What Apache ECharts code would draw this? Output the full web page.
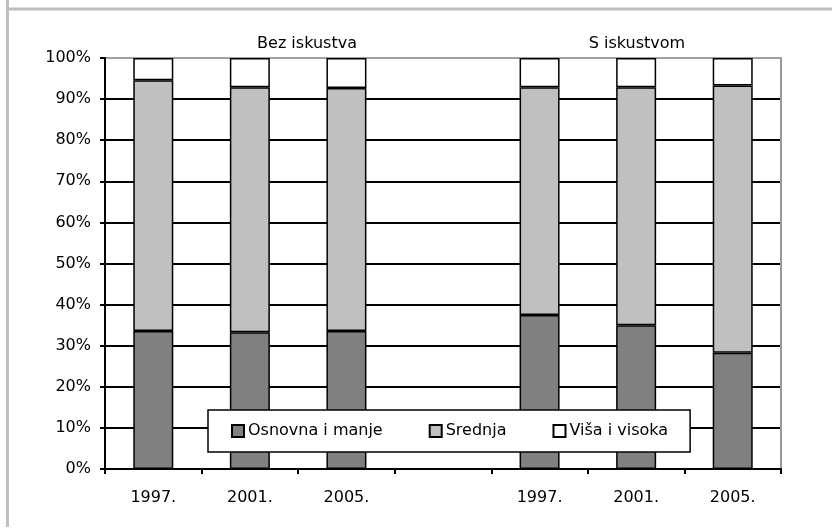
<!DOCTYPE html>
<html>
<head>
<meta charset="utf-8">
<script src="https://cdn.jsdelivr.net/npm/echarts@6/dist/echarts.min.js"></script>
<style>
  html, body { margin: 0; padding: 0; background: #fff; }
  #chart { width: 832px; height: 530px; }
</style>
</head>
<body>
<div id="chart"></div>
<script>
// kategorije (prazna kolona razdvaja dvije grupe)
const years = ['1997.', '2001.', '2005.', '', '1997.', '2001.', '2005.']
const groupLabels = ['Bez iskustva', 'S iskustvom']
const yTicks = [0, 10, 20, 30, 40, 50, 60, 70, 80, 90, 100]

// udjeli u %
const osnovna = [33.6, 33.3, 33.6, '-', 37.5, 35.0, 28.3]
const srednja = [61.0, 59.6, 59.1, '-', 55.4, 57.9, 65.0]
const visa = [5.4, 7.1, 7.3, '-', 7.1, 7.1, 6.7]

const font = 'DejaVu Sans'
const fs = 16
const chart = echarts.init(document.getElementById('chart'))

const barStyle = (color) => ({
  color,
  borderColor: '#000',
  borderWidth: 1.5,
})

chart.setOption({
  backgroundColor: '#fff',
  animation: false,
  textStyle: { fontFamily: font },
  grid: { left: 105, right: 51, top: 58, bottom: 61 },
  xAxis: {
    type: 'category',
    data: years,
    axisLine: { lineStyle: { color: '#000', width: 2 } },
    axisTick: { show: true, length: 5, lineStyle: { color: '#000', width: 2 } },
    axisLabel: { color: '#000', fontSize: fs, margin: 21, fontFamily: font },
    splitLine: { show: false },
  },
  yAxis: [
    {
      type: 'value',
      min: 0,
      max: 100,
      interval: 10,
      axisLine: { show: true, lineStyle: { color: '#000', width: 2 } },
      axisTick: { show: true, length: 5, lineStyle: { color: '#000', width: 2 } },
      axisLabel: { color: '#000', fontSize: fs, margin: 14, fontFamily: font, formatter: '{value}%' },
      splitLine: {
        show: true,
        lineStyle: {
          width: 2,
          color: yTicks.map((t) => (t === 100 ? '#a0a0a0' : '#000')),
        },
      },
    },
    {
      type: 'value',
      position: 'right',
      min: 0,
      max: 100,
      axisLine: { show: true, lineStyle: { color: '#999', width: 2 } },
      axisTick: { show: false },
      axisLabel: { show: false },
      splitLine: { show: false },
    },
  ],
  legend: {
    left: 208,
    top: 410,
    orient: 'horizontal',
    backgroundColor: '#fff',
    borderColor: '#000',
    borderWidth: 1.5,
    padding: [13, 22, 13, 23],
    itemGap: 46,
    itemWidth: 12,
    itemHeight: 12,
    icon: 'rect',
    textStyle: { color: '#000', fontSize: fs, fontFamily: font, padding: [0, 0, 0, -1] },
    data: ['Osnovna i manje', 'Srednja', 'Viša i visoka'],
  },
  graphic: [
    { type: 'line', shape: { x1: 8, y1: 9, x2: 832, y2: 9 }, style: { stroke: '#c0c0c0', lineWidth: 3 } },
    { type: 'line', shape: { x1: 7.5, y1: 0, x2: 7.5, y2: 527 }, style: { stroke: '#c0c0c0', lineWidth: 3 } },
    { type: 'text', x: 307, y: 44, style: { text: groupLabels[0], fill: '#000', font: fs + 'px "DejaVu Sans"', textAlign: 'center', textVerticalAlign: 'middle' } },
    { type: 'text', x: 637, y: 44, style: { text: groupLabels[1], fill: '#000', font: fs + 'px "DejaVu Sans"', textAlign: 'center', textVerticalAlign: 'middle' } },
  ],
  series: [
    { name: 'Osnovna i manje', type: 'bar', stack: 'a', barWidth: 40, data: osnovna, itemStyle: barStyle('#808080') },
    { name: 'Srednja', type: 'bar', stack: 'a', barWidth: 40, data: srednja, itemStyle: barStyle('#c0c0c0') },
    { name: 'Viša i visoka', type: 'bar', stack: 'a', barWidth: 40, data: visa, itemStyle: barStyle('#ffffff') },
  ],
})
</script>
</body>
</html>
